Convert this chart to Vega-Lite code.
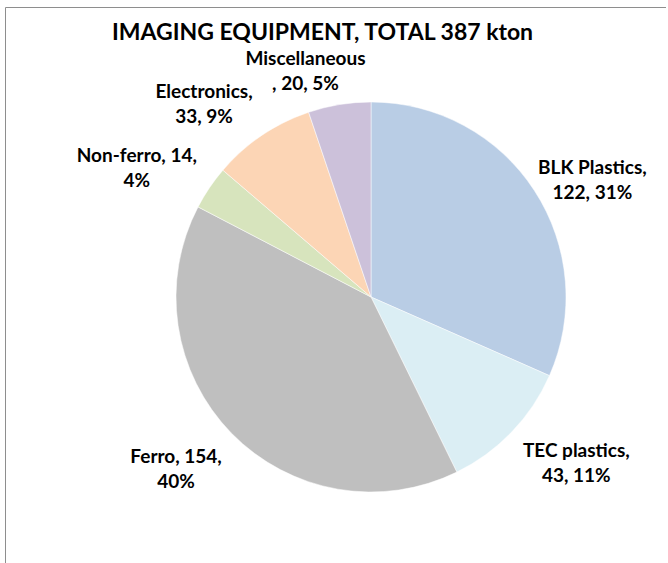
{
  "$schema": "https://vega.github.io/schema/vega-lite/v6.json",
  "width": 661,
  "height": 570,
  "autosize": "none",
  "padding": {"left": 5, "top": 7, "right": 0, "bottom": 0},
  "background": "white",
  "view": {"stroke": "#8e8e8e", "strokeWidth": 1, "fill": "white"},
  "title": {
    "text": "IMAGING EQUIPMENT, TOTAL 387 kton",
    "font": "Lato",
    "fontSize": 23,
    "fontWeight": "bold",
    "color": "black",
    "anchor": "middle",
    "offset": -38,
    "dx": -13
  },
  "data": {
    "values": [
      {"i": 1, "material": "BLK Plastics", "kton": 122, "label": "BLK Plastics,\n122, 31%"},
      {"i": 2, "material": "TEC plastics", "kton": 43, "label": "TEC plastics,\n43, 11%"},
      {"i": 3, "material": "Ferro", "kton": 154, "label": "Ferro, 154,\n40%"},
      {"i": 4, "material": "Non-ferro", "kton": 14, "label": "Non-ferro, 14,\n4%"},
      {"i": 5, "material": "Electronics", "kton": 33, "label": "Electronics,\n33, 9%"},
      {"i": 6, "material": "Miscellaneous", "kton": 20, "label": "Miscellaneous\n, 20, 5%"}
    ]
  },
  "encoding": {
    "theta": {"field": "kton", "type": "quantitative", "stack": true},
    "order": {"field": "i", "type": "quantitative"}
  },
  "layer": [
    {
      "mark": {"type": "arc", "radius": 195, "xOffset": 35.5, "yOffset": 5, "stroke": "white", "strokeWidth": 0.5},
      "encoding": {
        "color": {
          "field": "material",
          "type": "nominal",
          "scale": {
            "domain": ["BLK Plastics", "TEC plastics", "Ferro", "Non-ferro", "Electronics", "Miscellaneous"],
            "range": ["#B9CDE5", "#DBEEF4", "#BFBFBF", "#D7E4BD", "#FCD5B5", "#CCC1DA"]
          },
          "legend": null
        }
      }
    },
    {
      "mark": {
        "type": "text",
        "radius": 250,
        "xOffset": 35.5,
        "yOffset": 5,
        "dx": {"expr": "datum.material === 'BLK Plastics' ? 12 : datum.material === 'TEC plastics' ? 25 : datum.material === 'Ferro' ? -16 : datum.material === 'Non-ferro' ? -27 : datum.material === 'Electronics' ? -27 : -25"},
        "dy": {"expr": "datum.material === 'BLK Plastics' ? 8 : datum.material === 'TEC plastics' ? -19 : datum.material === 'Ferro' ? -15 : datum.material === 'Non-ferro' ? -1 : datum.material === 'Electronics' ? 2 : 9"},
        "font": "Lato",
        "fontSize": 19,
        "fontWeight": "bold",
        "color": "black",
        "lineBreak": "\n",
        "lineHeight": 25
      },
      "encoding": {
        "text": {"field": "label", "type": "nominal"}
      }
    }
  ]
}
